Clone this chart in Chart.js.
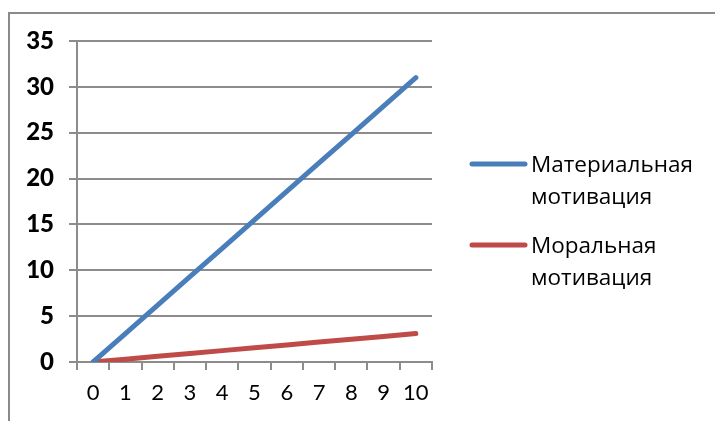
<!DOCTYPE html>
<html>
<head>
<meta charset="utf-8">
<script src="https://cdn.jsdelivr.net/npm/chart.js@4/dist/chart.umd.min.js"></script>
<style>
  html, body { margin: 0; padding: 0; background: #fff; }
  #wrap { position: relative; width: 715px; height: 421px; overflow: hidden; }
  #frame { position: absolute; left: 8px; top: 12px; right: 0; bottom: -4px;
           border-left: 2px solid #8a8a8a; border-top: 2px solid #8a8a8a; }
  canvas { position: absolute; left: 0; top: 0; }
</style>
</head>
<body>
<div id="wrap">
  <div id="frame"></div>
  <canvas id="c" width="715" height="421"></canvas>
</div>
<script>
// Categories on the horizontal axis
const categories = ['0', '1', '2', '3', '4', '5', '6', '7', '8', '9', '10'];

// Series values
const materialValues = [0, 3.1, 6.2, 9.3, 12.4, 15.5, 18.6, 21.7, 24.8, 27.9, 31];
const moralValues = [0, 0.31, 0.62, 0.93, 1.24, 1.55, 1.86, 2.17, 2.48, 2.79, 3.1];

// Series names (legend is split over two lines)
const seriesNames = [
  ['Материальная', 'мотивация'],
  ['Моральная', 'мотивация']
];
const seriesColors = ['#4a7ebb', '#be4b48'];

// Vertical axis tick values
const yTicks = [0, 5, 10, 15, 20, 25, 30, 35];

const gridColor = '#8c8c8c';

// Legend drawn at the right of the plot, each name on two lines
const sideLegend = {
  id: 'sideLegend',
  afterDraw(chart) {
    const ctx = chart.ctx;
    ctx.save();
    ctx.font = '22.5px "Open Sans", "Noto Sans", sans-serif';
    ctx.textBaseline = 'alphabetic';
    ctx.textAlign = 'left';
    chart.data.datasets.forEach((ds, i) => {
      const yMid = 164 + i * 81;
      ctx.strokeStyle = ds.borderColor;
      ctx.lineWidth = 5;
      ctx.lineCap = 'round';
      ctx.beginPath();
      ctx.moveTo(472, yMid);
      ctx.lineTo(525, yMid);
      ctx.stroke();
      ctx.fillStyle = '#000';
      ds.nameLines.forEach((t, j) => {
        ctx.fillText(t, 531, yMid + 8 + j * 32);
      });
    });
    ctx.restore();
  }
};

new Chart(document.getElementById('c'), {
  type: 'line',
  data: {
    labels: categories,
    datasets: [
      {
        label: seriesNames[0].join(' '),
        nameLines: seriesNames[0],
        data: materialValues,
        borderColor: seriesColors[0],
        borderWidth: 5,
        borderCapStyle: 'round',
        pointRadius: 0,
        tension: 0,
        fill: false
      },
      {
        label: seriesNames[1].join(' '),
        nameLines: seriesNames[1],
        data: moralValues,
        borderColor: seriesColors[1],
        borderWidth: 5,
        borderCapStyle: 'round',
        pointRadius: 0,
        tension: 0,
        fill: false
      }
    ]
  },
  options: {
    responsive: false,
    animation: false,
    devicePixelRatio: 1,
    layout: { padding: { left: 0, right: 283, top: 41, bottom: 0 } },
    plugins: {
      legend: { display: false },
      tooltip: { enabled: false }
    },
    scales: {
      x: {
        type: 'category',
        offset: true,
        grid: {
          display: true,
          drawOnChartArea: false,
          drawTicks: true,
          tickLength: 8,
          offset: true,
          color: gridColor,
          lineWidth: 2
        },
        border: { display: true, color: gridColor, width: 2 },
        ticks: {
          color: '#000',
          font: { family: 'Lato, "Open Sans", sans-serif', size: 22 },
          padding: 10,
          maxRotation: 0,
          autoSkip: false
        },
        afterFit(scale) { scale.height = 59; }
      },
      y: {
        min: 0,
        max: 35,
        grid: {
          color: gridColor,
          lineWidth: 2,
          tickLength: 8
        },
        border: { display: true, color: gridColor, width: 2 },
        afterBuildTicks(scale) {
          scale.ticks = yTicks.map(v => ({ value: v }));
        },
        ticks: {
          color: '#000',
          font: { family: 'Lato, "Open Sans", sans-serif', size: 24, weight: '900' },
          padding: 15
        },
        afterFit(scale) { scale.width = 77; }
      }
    }
  },
  plugins: [sideLegend]
});
</script>
</body>
</html>
